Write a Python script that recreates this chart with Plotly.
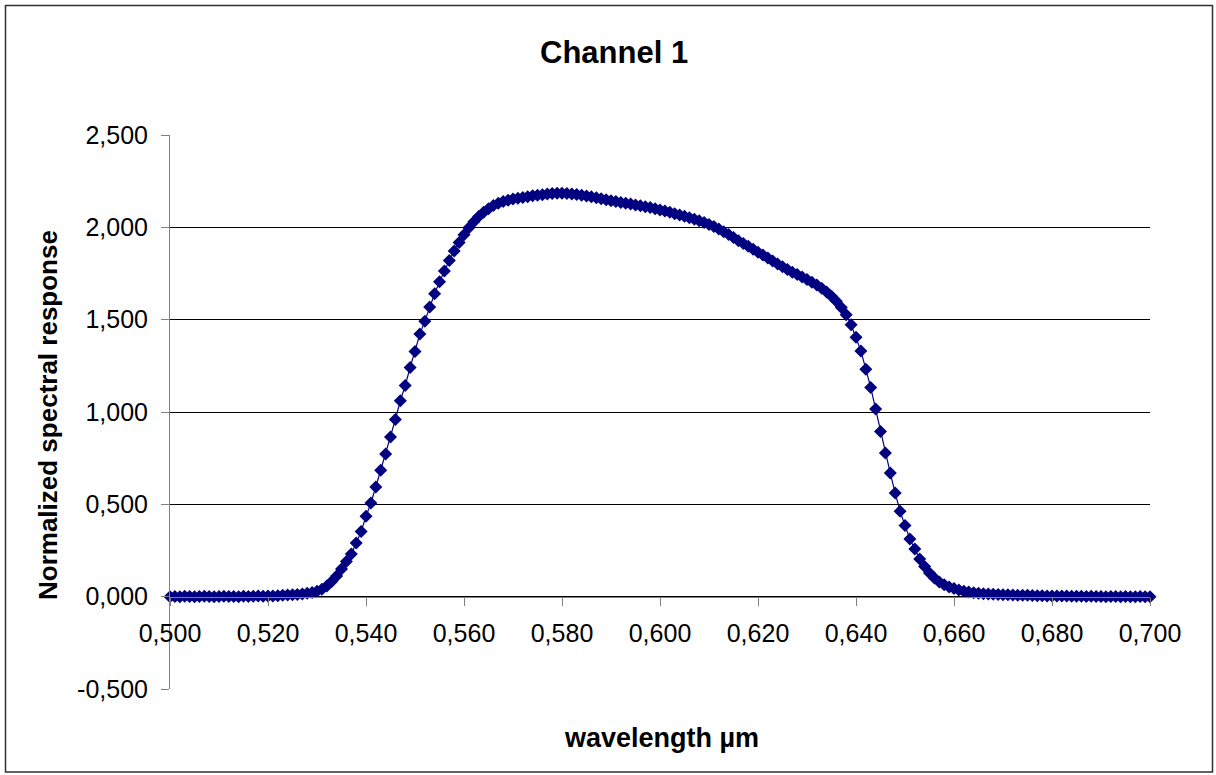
import plotly.graph_objects as go

# Wavelength grid (µm): 0.500 .. 0.700 step 0.001
wl_start = 0.500
wl_step = 0.001

response = [
    # 0.500 - 0.519
    0.000, 0.001, 0.000, 0.002, 0.001, 0.000, 0.001, 0.002, 0.001, 0.000,
    0.001, 0.002, 0.001, 0.001, 0.000, 0.002, 0.001, 0.002, 0.003, 0.002,
    # 0.520 - 0.539
    0.003, 0.004, 0.005, 0.007, 0.009, 0.010, 0.012, 0.015, 0.018, 0.022,
    0.029, 0.040, 0.058, 0.082, 0.112, 0.150, 0.190, 0.231, 0.290, 0.353,
    # 0.540 - 0.559
    0.435, 0.507, 0.594, 0.684, 0.772, 0.865, 0.960, 1.061, 1.143, 1.241,
    1.327, 1.422, 1.492, 1.569, 1.640, 1.705, 1.764, 1.820, 1.872, 1.918,
    # 0.560 - 0.579
    1.960, 1.998, 2.030, 2.058, 2.082, 2.100, 2.118, 2.131, 2.140, 2.147,
    2.153, 2.158, 2.162, 2.166, 2.171, 2.174, 2.177, 2.180, 2.183, 2.185,
    # 0.580 - 0.599
    2.185, 2.183, 2.181, 2.178, 2.174, 2.169, 2.165, 2.160, 2.155, 2.149,
    2.144, 2.140, 2.135, 2.131, 2.127, 2.121, 2.117, 2.112, 2.107, 2.100,
    # 0.600 - 0.619
    2.094, 2.088, 2.082, 2.074, 2.067, 2.060, 2.052, 2.044, 2.036, 2.026,
    2.016, 2.004, 1.991, 1.976, 1.961, 1.945, 1.928, 1.912, 1.897, 1.881,
    # 0.620 - 0.639
    1.865, 1.850, 1.834, 1.818, 1.802, 1.787, 1.772, 1.757, 1.745, 1.731,
    1.717, 1.702, 1.688, 1.670, 1.650, 1.627, 1.600, 1.566, 1.526, 1.472,
    # 0.640 - 0.659
    1.405, 1.331, 1.232, 1.133, 1.016, 0.894, 0.778, 0.669, 0.561, 0.462,
    0.386, 0.312, 0.258, 0.204, 0.164, 0.128, 0.101, 0.080, 0.065, 0.052,
    # 0.660 - 0.679
    0.044, 0.036, 0.030, 0.025, 0.021, 0.018, 0.016, 0.014, 0.013, 0.012,
    0.011, 0.010, 0.009, 0.008, 0.008, 0.007, 0.006, 0.005, 0.005, 0.004,
    # 0.680 - 0.700
    0.004, 0.003, 0.003, 0.003, 0.002, 0.002, 0.002, 0.001, 0.002, 0.001,
    0.001, 0.000, 0.001, 0.001, 0.000, 0.001, 0.000, 0.000, 0.001, 0.000,
    0.000,
]

wavelength = [round(wl_start + i * wl_step, 3) for i in range(len(response))]

x_ticks = [0.500, 0.520, 0.540, 0.560, 0.580, 0.600, 0.620, 0.640, 0.660, 0.680, 0.700]
y_ticks = [-0.5, 0.0, 0.5, 1.0, 1.5, 2.0, 2.5]

title_text = "Channel 1"
x_title = "wavelength µm"
y_title = "Normalized spectral response"


def fmt(v):
    return ("%.3f" % v).replace(".", ",")


FONT = "Liberation Sans, Arial, sans-serif"
NAVY = "#000080"

W, H = 1216, 775
L, R, T, B = 170, 1150, 135, 689  # plot-area pixel edges

fig = go.Figure()
fig.add_trace(go.Scatter(
    x=wavelength, y=response, mode="lines+markers",
    line=dict(color=NAVY, width=1.2),
    marker=dict(symbol="diamond", size=10, color=NAVY),
    showlegend=False, cliponaxis=False,
))

ymin, ymax = -0.5, 2.5
zero_pos = (0 - ymin) / (ymax - ymin)


def px_x(px):
    return (px - L) / (R - L)


def px_y(py):
    return (B - py) / (B - T)


fig.update_layout(
    width=W, height=H,
    margin=dict(l=L, r=W - R, t=T, b=H - B),
    paper_bgcolor="white", plot_bgcolor="white",
    font=dict(family=FONT, color="black"),
    xaxis=dict(
        range=[0.5, 0.7], anchor="free", position=zero_pos,
        tickvals=x_ticks, ticktext=[fmt(v) for v in x_ticks],
        ticks="outside", ticklen=8, tickcolor="#808080", tickwidth=1,
        ticklabelstandoff=6,
        showline=True, linecolor="#808080", linewidth=1,
        showgrid=False, zeroline=False,
        tickfont=dict(size=25, family=FONT, color="black"),
    ),
    yaxis=dict(
        range=[ymin, ymax],
        tickvals=y_ticks, ticktext=[fmt(v) for v in y_ticks],
        ticks="outside", ticklen=8, tickcolor="#808080", tickwidth=1,
        ticklabelstandoff=8,
        showline=True, linecolor="#808080", linewidth=1,
        showgrid=True, gridcolor="#000000", gridwidth=1,
        zeroline=False,
        tickfont=dict(size=25, family=FONT, color="black"),
    ),
    annotations=[
        dict(text="<b>%s</b>" % title_text, x=px_x(614), y=px_y(52),
             xref="paper", yref="paper", showarrow=False,
             font=dict(size=31, family=FONT, color="black"),
             xanchor="center", yanchor="middle"),
        dict(text="<b>%s</b>" % x_title, x=px_x(661), y=px_y(738),
             xref="paper", yref="paper", showarrow=False,
             font=dict(size=27, family=FONT, color="black"),
             xanchor="center", yanchor="middle"),
        dict(text="<b>%s</b>" % y_title, x=px_x(48), y=px_y(415),
             xref="paper", yref="paper", showarrow=False, textangle=-90,
             font=dict(size=26, family=FONT, color="black"),
             xanchor="center", yanchor="middle"),
    ],
    shapes=[
        dict(type="rect", xref="paper", yref="paper",
             x0=px_x(5.5), x1=px_x(1212.5), y0=px_y(772), y1=px_y(5.5),
             line=dict(color="#303030", width=1.5), layer="below"),
    ],
)

fig.write_html("out.html", config={"displayModeBar": False},
               post_script="document.body.style.margin='0';")
